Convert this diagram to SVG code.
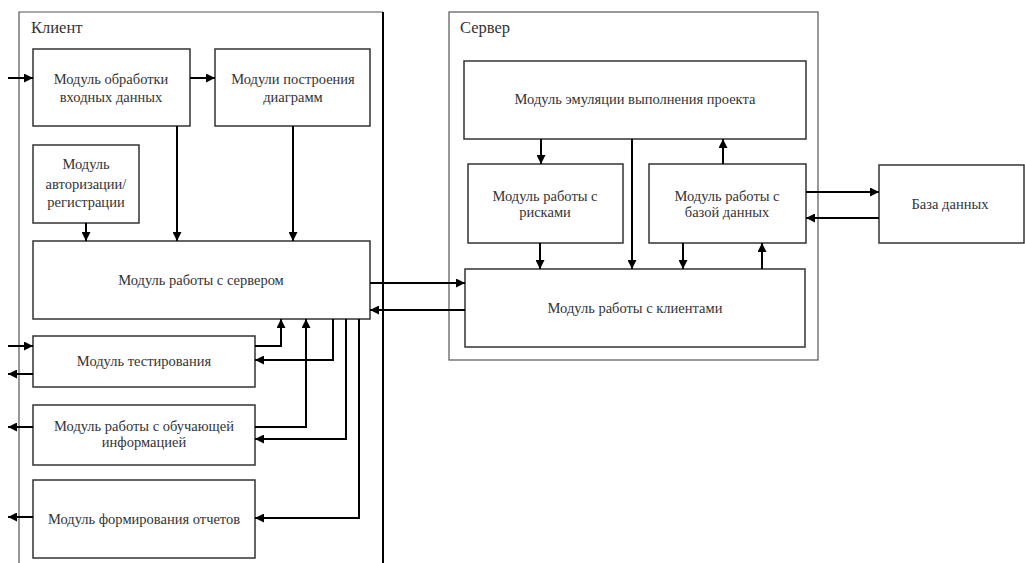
<svg xmlns="http://www.w3.org/2000/svg" width="1025" height="563" viewBox="0 0 1025 563">
<style>
.box{fill:#fff;stroke:#333;stroke-width:1.5}
.cont{fill:none;stroke:#555;stroke-width:1.2}
.t{font-family:"Liberation Serif","Times New Roman",serif;font-size:14.5px;fill:#333;text-anchor:middle}
.h{font-family:"Liberation Serif","Times New Roman",serif;font-size:16.5px;fill:#333}
.c{fill:none;stroke:#000;stroke-width:2}
</style>
<defs>
<marker id="a" viewBox="0 0 10 10" refX="10" refY="5" markerWidth="4.5" markerHeight="4.5" orient="auto" markerUnits="strokeWidth">
<path d="M0,0 L10,5 L0,10 z" fill="#000"/>
</marker>
</defs>
<rect width="1025" height="563" fill="#fff"/>
<g id="client">
<path class="cont" d="M19,563 V12 H383"/>
<line x1="383" y1="12" x2="383" y2="563" stroke="#000" stroke-width="2"/>
<text class="h" x="31" y="33">Клиент</text>
</g>
<g id="server">
<rect class="cont" x="449" y="12" width="369" height="348"/>
<text class="h" x="460" y="33">Сервер</text>
</g>
<g id="n_input">
<rect class="box" x="33" y="49" width="157" height="77"/>
<text class="t" x="111" y="84">Модуль обработки</text>
<text class="t" x="111" y="102">входных данных</text>
</g>
<g id="n_diag">
<rect class="box" x="215" y="49" width="155" height="77"/>
<text class="t" x="293" y="84">Модули построения</text>
<text class="t" x="293" y="102">диаграмм</text>
</g>
<g id="n_auth">
<rect class="box" x="33" y="145" width="106" height="78"/>
<text class="t" x="86" y="169">Модуль</text>
<text class="t" x="86" y="189">авторизации/</text>
<text class="t" x="86" y="207">регистрации</text>
</g>
<g id="n_srv">
<rect class="box" x="33" y="241" width="337" height="78"/>
<text class="t" x="201" y="285">Модуль работы с сервером</text>
</g>
<g id="n_test">
<rect class="box" x="33" y="336" width="222" height="51"/>
<text class="t" x="144" y="366">Модуль тестирования</text>
</g>
<g id="n_learn">
<rect class="box" x="33" y="405" width="222" height="60"/>
<text class="t" x="144" y="431">Модуль работы с обучающей</text>
<text class="t" x="144" y="447">информацией</text>
</g>
<g id="n_report">
<rect class="box" x="33" y="480" width="222" height="78"/>
<text class="t" x="144" y="524">Модуль формирования отчетов</text>
</g>
<g id="n_emul">
<rect class="box" x="464" y="61" width="342" height="78"/>
<text class="t" x="635" y="104">Модуль эмуляции выполнения проекта</text>
</g>
<g id="n_risk">
<rect class="box" x="468" y="164" width="155" height="79"/>
<text class="t" x="545" y="201">Модуль работы с</text>
<text class="t" x="545" y="217">рисками</text>
</g>
<g id="n_dbm">
<rect class="box" x="649" y="164" width="157" height="79"/>
<text class="t" x="727" y="201">Модуль работы с</text>
<text class="t" x="727" y="217">базой данных</text>
</g>
<g id="n_cli">
<rect class="box" x="465" y="269" width="340" height="78"/>
<text class="t" x="635" y="313">Модуль работы с клиентами</text>
</g>
<g id="n_db">
<rect class="box" x="879" y="165" width="145" height="78"/>
<text class="t" x="950" y="209">База данных</text>
</g>
<g id="connectors" class="c">
<path class="c" marker-end="url(#a)" d="M8,78 H33"/>
<path class="c" marker-end="url(#a)" d="M190,78 H215"/>
<path class="c" marker-end="url(#a)" d="M86,223 V241"/>
<path class="c" marker-end="url(#a)" d="M177,126 V241"/>
<path class="c" marker-end="url(#a)" d="M293,126 V241"/>
<path class="c" marker-end="url(#a)" d="M8,346 H33"/>
<path class="c" marker-end="url(#a)" d="M33,374 H8"/>
<path class="c" marker-end="url(#a)" d="M33,427 H8"/>
<path class="c" marker-end="url(#a)" d="M33,517 H8"/>
<path class="c" marker-end="url(#a)" d="M255,346 H281 V319"/>
<path class="c" marker-end="url(#a)" d="M255,427 H306 V319"/>
<path class="c" marker-end="url(#a)" d="M333,319 V360 H255"/>
<path class="c" marker-end="url(#a)" d="M346,319 V439 H255"/>
<path class="c" marker-end="url(#a)" d="M359,319 V518 H255"/>
<path class="c" marker-end="url(#a)" d="M370,283 H465"/>
<path class="c" marker-end="url(#a)" d="M465,310 H370"/>
<path class="c" marker-end="url(#a)" d="M541,139 V164"/>
<path class="c" marker-end="url(#a)" d="M632,139 V269"/>
<path class="c" marker-end="url(#a)" d="M723,164 V139"/>
<path class="c" marker-end="url(#a)" d="M540,243 V269"/>
<path class="c" marker-end="url(#a)" d="M683,243 V269"/>
<path class="c" marker-end="url(#a)" d="M762,269 V243"/>
<path class="c" marker-end="url(#a)" d="M806,192 H879"/>
<path class="c" marker-end="url(#a)" d="M879,218 H806"/>
</g>
</svg>
